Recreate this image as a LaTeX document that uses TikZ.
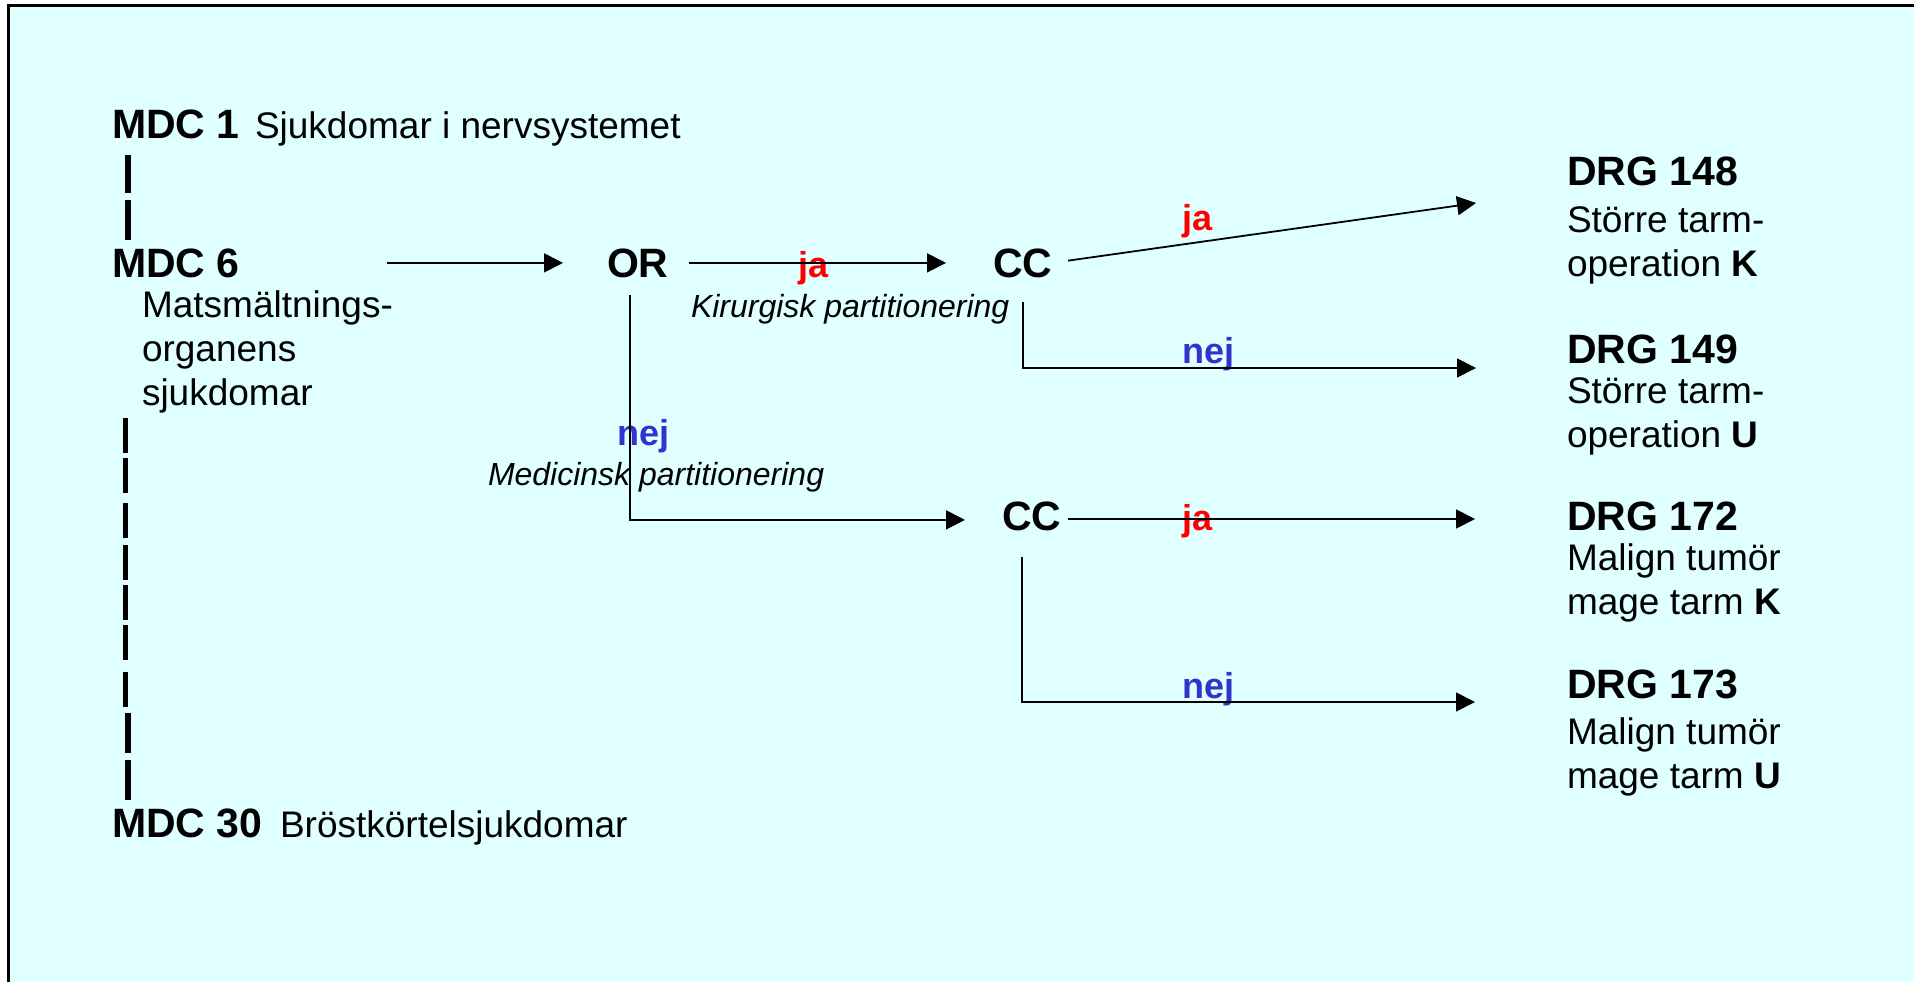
\documentclass[tikz,border=0pt]{standalone}
\usepackage{fontspec}
\setmainfont{Liberation Sans}
\usetikzlibrary{arrows.meta}

\definecolor{slidebg}{RGB}{224,255,255}
\definecolor{jared}{RGB}{255,0,0}
\definecolor{nejblue}{RGB}{51,51,204}

\tikzset{mdc_label/.style={inner sep=0pt, outer sep=0pt, anchor=base west, font=\fontsize{41}{44}\selectfont\bfseries}}
\tikzset{plain_text/.style={inner sep=0pt, outer sep=0pt, anchor=base west, align=left, font=\fontsize{37}{44}\selectfont}}
\tikzset{part_text/.style={inner sep=0pt, outer sep=0pt, anchor=base west, font=\fontsize{32}{36}\selectfont\itshape}}
\tikzset{ja_label/.style={inner sep=0pt, outer sep=0pt, anchor=base west, text=jared, font=\fontsize{36}{40}\selectfont\bfseries}}
\tikzset{nej_label/.style={inner sep=0pt, outer sep=0pt, anchor=base west, text=nejblue, font=\fontsize{36}{40}\selectfont\bfseries}}
\tikzset{flow_arrow/.style={line width=1.8pt, -{Triangle[length=19pt,width=19pt]}}}
\tikzset{pipe_bar/.style={line width=5pt}}

\begin{document}
\begin{tikzpicture}[x=1pt,y=-1pt]
    \useasboundingbox (0,0) rectangle (1914,982);
    \clip (0,0) rectangle (1914,982);
    \fill[slidebg] (8.5,5.5) rectangle (1940,1000);
    \draw[line width=2.5pt] (8.5,1000) -- (8.5,5.5) -- (1940,5.5);

    % MDC list (multi-line texts sit on their last baseline)
    \node[mdc_label] (mdc1) at (112,138) {MDC 1};
    \node[plain_text] (mdc1t) at (255,138) {Sjukdomar i nervsystemet};
    \node[mdc_label] (mdc6) at (112,277) {MDC 6};
    \node[plain_text] (mdc6t) at (142,405) {Matsmältnings-\\organens\\sjukdomar};
    \node[mdc_label] (mdc30) at (112,837) {MDC 30};
    \node[plain_text] (mdc30t) at (280,837) {Bröstkörtelsjukdomar};
    \foreach \a/\b in {155/193,200/240,713/753,760/800}
      \draw[pipe_bar, line width=5.5pt] (128,\a) -- (128,\b);
    \foreach \a/\b in {418/453,458/493,503/538,545/580,585/620,625/660,672/707}
      \draw[pipe_bar] (125,\a) -- (125,\b);

    % decision nodes
    \node[mdc_label] (or) at (607,277) {OR};
    \node[mdc_label] (ccop) at (993,277) {CC};
    \node[mdc_label] (ccmed) at (1002,530) {CC};

    % DRG groups
    \node[mdc_label] (drg148) at (1567,185) {DRG 148};
    \node[plain_text] (drg148t) at (1567,276) {Större tarm-\\operation \textbf{K}};
    \node[mdc_label] (drg149) at (1567,363) {DRG 149};
    \node[plain_text] (drg149t) at (1567,447) {Större tarm-\\operation \textbf{U}};
    \node[mdc_label] (drg172) at (1567,530) {DRG 172};
    \node[plain_text] (drg172t) at (1567,614) {Malign tumör\\mage tarm \textbf{K}};
    \node[mdc_label] (drg173) at (1567,698) {DRG 173};
    \node[plain_text] (drg173t) at (1567,788) {Malign tumör\\mage tarm \textbf{U}};
    \coordinate (t148) at (1476,203);
    \coordinate (t149) at (1476,368);
    \coordinate (t172) at (1475,519);
    \coordinate (t173) at (1475,702);

    % branch labels
    \node[part_text] (kir) at (691,317) {Kirurgisk partitionering};
    \node[part_text] (med) at (488,485) {Medicinsk partitionering};
    \node[ja_label] (ja1) at (798,277) {ja};
    \node[nej_label] (nej1) at (617,445) {nej};
    \node[ja_label] (ja2) at (1182,230) {ja};
    \node[nej_label] (nej2) at (1182,363) {nej};
    \node[ja_label] (ja3) at (1182,530) {ja};
    \node[nej_label] (nej3) at (1182,698) {nej};

    % connectors
    \draw[flow_arrow, shorten <=147pt, shorten >=44pt] (mdc6) -- (or);
    \draw[flow_arrow, shorten <=20pt, shorten >=47pt] (or) -- (ccop);
    \draw[flow_arrow, shorten <=18pt, shorten >=37pt] ([xshift=-7.75pt]or.south) |- ([yshift=-4pt]ccmed.west);
    \draw[flow_arrow, shorten <=16pt] (ccop.east) -- (t148);
    \draw[flow_arrow, shorten <=25pt] (ccop.south) |- (t149);
    \draw[flow_arrow, shorten <=7pt] (ccmed.east |- t172) -- (t172);
    \draw[flow_arrow, shorten <=27pt] ([xshift=-9.5pt]ccmed.south) |- (t173);
\end{tikzpicture}
\end{document}
